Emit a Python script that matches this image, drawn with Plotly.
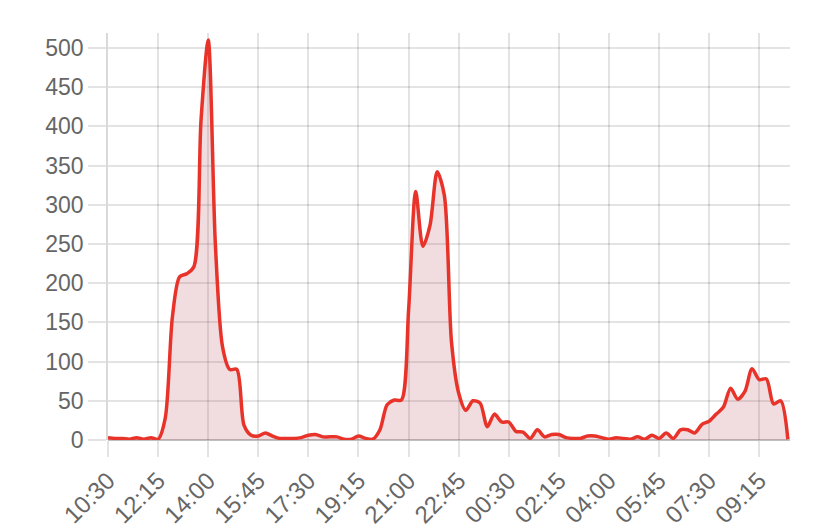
import plotly.graph_objects as go

# 15-minute time slots from 10:30 to 10:15 next day
times = []
h, m = 10, 30
for _ in range(96):
    times.append(f"{h:02d}:{m:02d}")
    m += 15
    if m == 60:
        m = 0
        h = (h + 1) % 24

values = [3, 2, 2, 1, 3, 1, 3, 1, 28, 157, 208, 212, 221, 408, 510, 250,
          119, 90, 90, 19, 6, 5, 9, 5, 2, 2, 2, 3, 6, 7, 4, 4,
          4, 1, 1, 5, 2, 1, 13, 45, 51, 51, 165, 317, 247, 274, 342, 312,
          125, 60, 38, 50, 47, 17, 33, 23, 23, 11, 10, 2, 13, 4, 7, 7,
          3, 2, 2, 5, 5, 3, 1, 3, 2, 1, 4, 1, 6, 2, 9, 2,
          13, 13, 9, 20, 24, 33, 42, 66, 52, 62, 91, 77, 78, 46, 50, 1]

tick_labels = times[::7]
y_ticks = [0, 50, 100, 150, 200, 250, 300, 350, 400, 450, 500]

fig = go.Figure()
fig.add_trace(go.Scatter(
    x=times, y=values, mode="lines",
    line=dict(color="#e8332a", width=3.5, shape="spline", smoothing=0.8),
    fill="tozeroy", fillcolor="rgba(185,80,95,0.2)",
    hoverinfo="x+y", showlegend=False,
))

font = dict(family="Liberation Sans, Arial, sans-serif", size=23, color="#666666")
xfont = dict(family="Liberation Sans, Arial, sans-serif", size=24, color="#666666")
grid = "rgba(0,0,0,0.11)"
fig.update_layout(
    width=828, height=529,
    margin=dict(l=100, r=46, t=25, b=97),
    paper_bgcolor="white", plot_bgcolor="white",
    font=font,
    xaxis=dict(
        type="category", categoryorder="array", categoryarray=times,
        range=[0, 95.3],
        tickmode="array", tickvals=tick_labels, ticktext=tick_labels,
        tickangle=-45, ticks="outside", ticklen=16, tickcolor=grid,
        tickwidth=1.5,
        showgrid=True, gridcolor=grid, gridwidth=1.5,
        showline=False, zeroline=False, tickfont=xfont, automargin=False,
    ),
    yaxis=dict(
        range=[0, 519],
        tickmode="array", tickvals=y_ticks,
        ticks="outside", ticklen=18, tickcolor=grid, tickwidth=1.5,
        showgrid=True, gridcolor=grid, gridwidth=1.5,
        showline=True, linecolor="rgba(0,0,0,0.15)", linewidth=1.5,
        zeroline=True, zerolinecolor="rgba(0,0,0,0.25)", zerolinewidth=1.5,
        tickfont=font, automargin=False,
    ),
)

fig.write_html("out.html")
